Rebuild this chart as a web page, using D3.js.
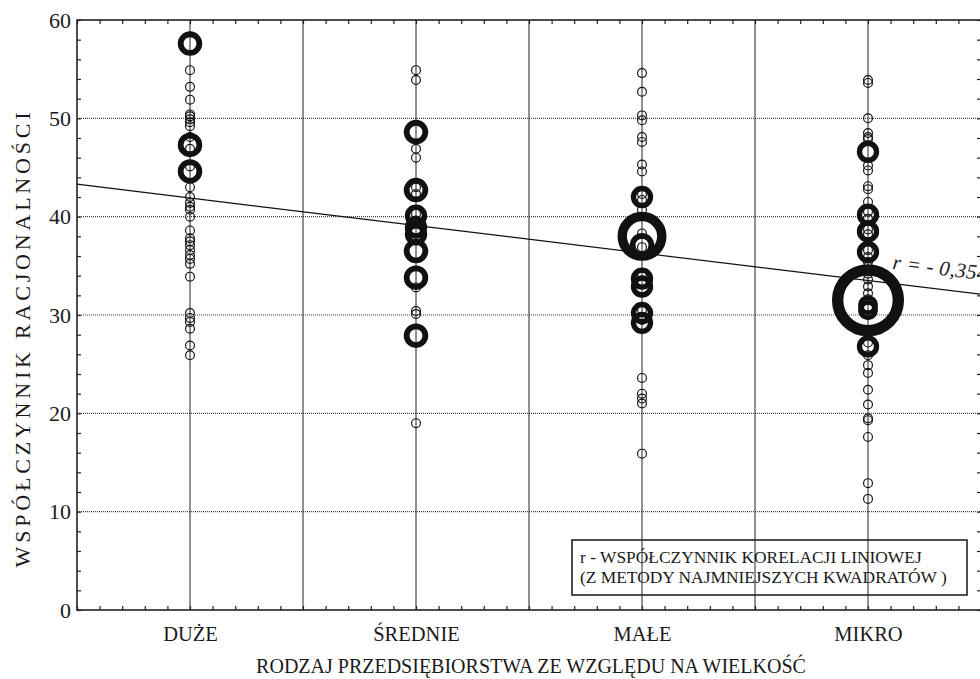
<!DOCTYPE html>
<html>
<head>
<meta charset="utf-8">
<script src="https://cdn.jsdelivr.net/npm/d3@7"></script>
<style>
  body { margin: 0; background: #fff; }
  text { font-family: "Liberation Serif", "Times New Roman", serif; fill: #1a1a1a; }
</style>
</head>
<body>
<div id="chart"></div>
<script>
// categories on the x axis
const categories = ["DUŻE", "ŚREDNIE", "MAŁE", "MIKRO"];

// [value, count] pairs per category (count -> bubble size)
const duze = [
  [57.6, 6], [54.9, 1], [53.2, 1], [51.9, 1], [50.4, 1], [50.2, 1], [49.9, 1], [49.6, 1],
  [49.2, 1], [48.1, 1], [47.3, 6], [46.9, 1], [45.1, 1], [44.6, 6], [43.0, 1], [42.0, 1],
  [41.4, 1], [41.0, 1], [40.7, 1], [40.0, 1], [38.6, 1], [37.8, 1], [37.5, 1], [37.1, 1],
  [36.6, 1], [36.1, 1], [35.7, 1], [35.2, 1], [33.9, 1], [30.2, 1], [29.7, 1], [29.3, 1],
  [28.6, 1], [26.9, 1], [25.9, 1]
];
const srednie = [
  [54.9, 1], [53.9, 1], [48.6, 6], [46.9, 1], [46.0, 1], [42.7, 6], [43.0, 1], [42.3, 1],
  [40.1, 5], [40.3, 1], [39.6, 1], [38.9, 5], [38.6, 1], [38.2, 5], [37.6, 1], [36.5, 6],
  [33.8, 6], [32.8, 1], [30.4, 1], [30.1, 1], [27.9, 6], [19.0, 1]
];
const male = [
  [54.6, 1], [52.7, 1], [50.3, 1], [49.8, 1], [48.1, 1], [47.6, 1], [45.3, 1], [44.6, 1],
  [42.0, 5], [42.3, 1], [41.7, 1], [40.7, 1], [38.0, 24], [38.3, 1], [37.1, 6], [36.9, 1],
  [34.0, 1], [33.7, 5], [33.2, 1], [32.9, 5], [30.5, 1], [30.2, 5], [29.5, 1], [29.2, 5],
  [23.6, 1], [22.0, 1], [21.5, 1], [21.0, 1], [15.9, 1]
];
const mikro = [
  [53.9, 1], [53.6, 1], [50.0, 1], [48.5, 1], [48.1, 1], [47.9, 1], [46.6, 5], [45.2, 1],
  [44.7, 1], [43.1, 1], [42.8, 1], [41.5, 1], [40.2, 5], [40.5, 1], [39.8, 1], [38.5, 5],
  [38.7, 1], [38.2, 1], [36.4, 5], [36.6, 1], [35.9, 1], [35.4, 1], [34.9, 1], [34.2, 1],
  [33.6, 1], [32.9, 1], [32.2, 1], [31.5, 52], [31.6, 1], [31.0, 4], [30.8, 1], [30.5, 4],
  [30.0, 1], [27.2, 1], [26.8, 5], [25.9, 1], [24.9, 1], [24.1, 1], [22.4, 1], [20.9, 1],
  [19.5, 1], [19.3, 1], [17.6, 1], [12.9, 1], [11.3, 1]
];
const groups = [duze, srednie, male, mikro];

const yTicks = [0, 10, 20, 30, 40, 50, 60];
const xGrid = [1, 1.5, 2, 2.5, 3, 3.5, 4];

// least squares line y = a + b*x (x = category index)
const trendIntercept = 44.7;
const trendSlope = -2.8;
const trendLabel = "r = - 0,354";

const legendLines = [
  "r - WSPÓŁCZYNNIK KORELACJI LINIOWEJ",
  "(Z METODY NAJMNIEJSZYCH KWADRATÓW )"
];

const width = 980, height = 679;
const margin = { left: 77, top: 20, right: -1, bottom: 69 };

const svg = d3.select("#chart").append("svg")
  .attr("width", width)
  .attr("height", height);

const x = d3.scaleLinear().domain([0.5, 4.5]).range([margin.left, width - margin.right]);
const y = d3.scaleLinear().domain([0, 60]).range([height - margin.bottom, margin.top]);

// grid
svg.append("g").selectAll("line.h")
  .data(yTicks.filter(d => d > 0 && d < 60))
  .enter().append("line")
    .attr("x1", x(0.5)).attr("x2", x(4.5))
    .attr("y1", d => y(d)).attr("y2", d => y(d))
    .attr("stroke", "#444")
    .attr("stroke-width", 1.2)
    .attr("stroke-dasharray", "1,1");

svg.append("g").selectAll("line.v")
  .data(xGrid)
  .enter().append("line")
    .attr("x1", d => x(d)).attr("x2", d => x(d))
    .attr("y1", y(0)).attr("y2", y(60))
    .attr("stroke", "#222")
    .attr("stroke-width", 1);

// inward minor ticks on all four sides
const xMinor = d3.range(5, 46).map(d => d / 10);
const yMinor = d3.range(0, 61, 2);
function tickAxis(axis, tr) {
  const g = svg.append("g").attr("transform", tr)
    .call(axis.tickSize(-4).tickFormat(""));
  g.select(".domain").remove();
  g.selectAll("line").attr("stroke", "#222").attr("stroke-width", 1.2);
}
tickAxis(d3.axisBottom(x).tickValues(xMinor), `translate(0,${y(0)})`);
tickAxis(d3.axisTop(x).tickValues(xMinor), `translate(0,${y(60)})`);
tickAxis(d3.axisLeft(y).tickValues(yMinor), `translate(${x(0.5)},0)`);
tickAxis(d3.axisRight(y).tickValues(yMinor), `translate(${x(4.5)},0)`);

// frame
svg.append("rect")
  .attr("x", x(0.5)).attr("y", y(60))
  .attr("width", x(4.5) - x(0.5)).attr("height", y(0) - y(60))
  .attr("fill", "none")
  .attr("stroke", "#222")
  .attr("stroke-width", 1.6);

// y tick labels
const yAxis = svg.append("g")
  .attr("transform", `translate(${x(0.5)},0)`)
  .call(d3.axisLeft(y).tickValues(yTicks).tickSize(0).tickPadding(6));
yAxis.select(".domain").remove();
yAxis.selectAll("text")
  .style("font-family", "'Liberation Serif', serif")
  .style("font-size", "22px")
  .attr("fill", "#1a1a1a");

// category labels
const xAxis = svg.append("g")
  .attr("transform", `translate(0,${y(0)})`)
  .call(d3.axisBottom(x).tickValues([1, 2, 3, 4]).tickSize(0)
    .tickFormat(d => categories[d - 1]));
xAxis.select(".domain").remove();
xAxis.selectAll("text")
  .attr("y", 31).attr("dy", null)
  .style("font-family", "'Liberation Serif', serif")
  .style("font-size", "20.5px")
  .attr("fill", "#1a1a1a");

// trend line
const trendLine = d3.line()
  .x(d => x(d))
  .y(d => y(trendIntercept + trendSlope * d));
svg.append("path")
  .attr("d", trendLine([0.5, 4.5]))
  .attr("fill", "none")
  .attr("stroke", "#111")
  .attr("stroke-width", 1.2);

const angle = Math.atan2(y(trendIntercept + trendSlope * 4.5) - y(trendIntercept + trendSlope * 0.5),
  x(4.5) - x(0.5)) * 180 / Math.PI;
svg.append("text")
  .attr("x", 892).attr("y", 269)
  .attr("transform", `rotate(${angle},892,269)`)
  .style("font-style", "italic")
  .style("font-size", "21px")
  .style("letter-spacing", "0.3px")
  .text(trendLabel);

// bubbles
const outerR = d3.scaleSqrt().domain([0, 1]).range([0, 5]);
const strokeW = d3.scaleLog().domain([1, 50]).range([1.15, 11.3]);

const points = [];
groups.forEach((g, i) => g.forEach(([v, n]) => points.push({ cat: i + 1, v, n })));

svg.append("g").selectAll("circle")
  .data(points)
  .enter().append("circle")
    .attr("cx", d => x(d.cat))
    .attr("cy", d => y(d.v))
    .attr("r", d => outerR(d.n) - strokeW(d.n) / 2)
    .attr("fill", "none")
    .attr("stroke", "#111")
    .attr("stroke-width", d => strokeW(d.n));

// legend box
const legend = svg.append("g");
legend.append("rect")
  .attr("x", 572).attr("y", 540)
  .attr("width", 395).attr("height", 55)
  .attr("fill", "none")
  .attr("stroke", "#222")
  .attr("stroke-width", 1.6);
legend.selectAll("text")
  .data(legendLines)
  .enter().append("text")
    .attr("x", 580)
    .attr("y", (d, i) => 563 + i * 20)
    .style("font-size", "17.4px")
    .text(d => d);

// axis titles
svg.append("text")
  .attr("x", (x(0.5) + x(4.5)) / 2 + 2)
  .attr("y", 673)
  .attr("text-anchor", "middle")
  .style("font-size", "20px")
  .text("RODZAJ PRZEDSIĘBIORSTWA ZE WZGLĘDU NA WIELKOŚĆ");

svg.append("text")
  .attr("transform", "translate(30,338) rotate(-90)")
  .attr("text-anchor", "middle")
  .style("font-size", "22px")
  .style("letter-spacing", "3.8px")
  .text("WSPÓŁCZYNNIK RACJONALNOŚCI");
</script>
</body>
</html>
